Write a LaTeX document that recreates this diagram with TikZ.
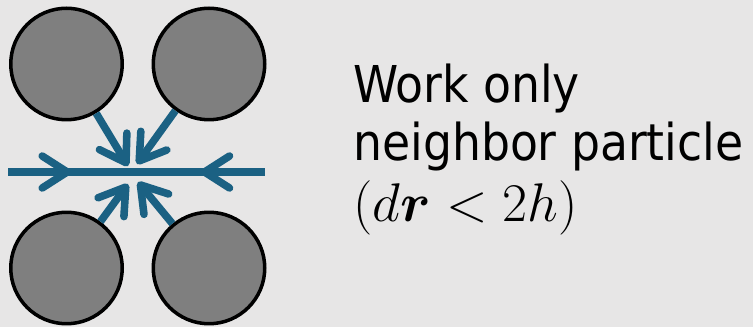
\RequirePackage{fix-cm}
\documentclass[tikz,border=0pt]{standalone}
\usepackage{amsmath}
\usepackage{bm}
\usepackage{fontspec}
\newfontfamily\labelfont{DejaVu Sans Condensed}
\usetikzlibrary{arrows.meta}
\usetikzlibrary{decorations.markings}
\tikzset{->-<-/.style 2 args={decoration={
  markings,
  mark=at position #1 with {\arrow{>}},
  mark=at position #2 with {\arrowreversed{>}}},postaction={decorate}}}
\definecolor{bgray}{HTML}{E7E6E6}
\definecolor{pgray}{HTML}{7F7F7F}
\definecolor{fblue}{HTML}{1B6183}
\tikzset{particle/.style={circle, draw=black, line width=2pt, fill=pgray, minimum size=2.23cm, inner sep=0pt}}
\tikzset{force/.style={draw=fblue, line width=4.3pt, line cap=butt}}

\begin{document}
\begin{tikzpicture}[x=0.02cm, y=-0.02cm, >={Straight Barb[length=0.5cm,width=0.64cm,round]}]
      \fill [bgray] (0, 0) rectangle (753, 327);

      \node [particle] (tl) at (66.5, 64) {};
      \node [particle] (tr) at (209, 64) {};
      \node [particle] (bl) at (66.5, 268) {};
      \node [particle] (br) at (209, 268) {};

      \coordinate (hl) at (8, 172);
      \coordinate (hr) at (265, 172);
      \coordinate (ctl) at (128, 166);
      \coordinate (ctr) at (137, 164);
      \coordinate (cbl) at (128, 184);
      \coordinate (cbr) at (138, 182);

      \draw [force, ->-<-={0.245}{0.75}] (hl) -- (hr);
      \draw [force, ->] (tl) -- (ctl);
      \draw [force, ->] (tr) -- (ctr);
      \draw [force, ->] (bl) -- (cbl);
      \draw [force, ->] (br) -- (cbr);

      \node [anchor=north west, inner sep=0pt, align=left,
        font=\labelfont\fontsize{28.9}{33}\selectfont] (txt) at (353, 64)
        {Work only\\neighbor particle\\[1.5pt]{\fontsize{31}{33}\selectfont$(d\bm{r}<2h)$}};
    \end{tikzpicture}
\end{document}
